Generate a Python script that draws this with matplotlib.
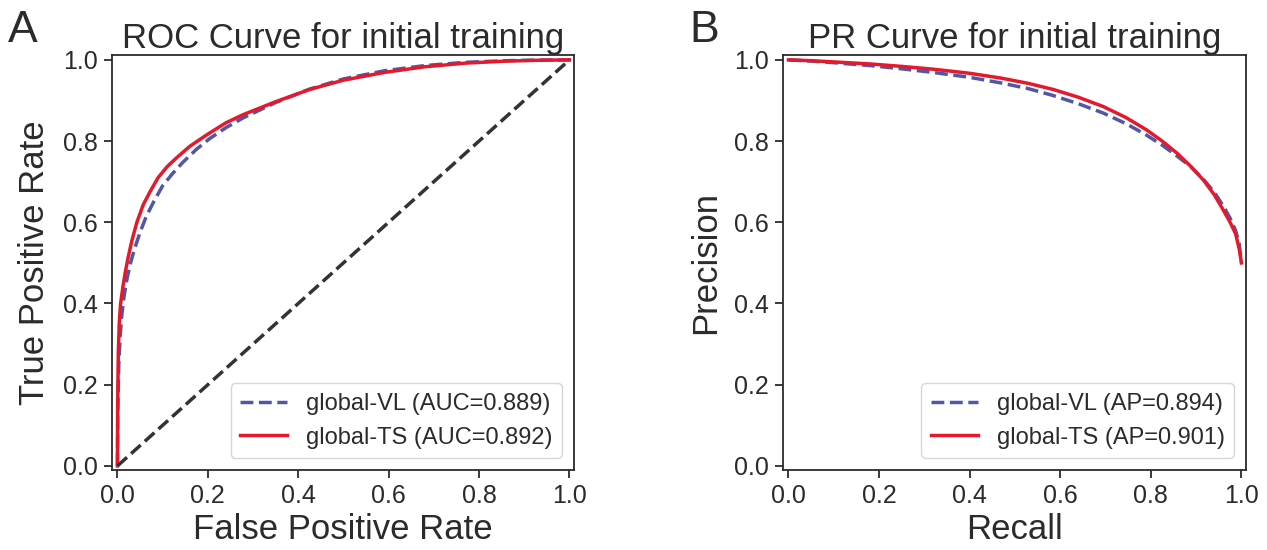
import matplotlib
matplotlib.use("Agg")
import matplotlib.pyplot as plt

plt.rcParams["font.family"] = ["Liberation Sans", "DejaVu Sans"]
plt.rcParams["text.color"] = "#2b2b2b"
plt.rcParams["axes.labelcolor"] = "#2b2b2b"
plt.rcParams["xtick.color"] = "#2b2b2b"
plt.rcParams["ytick.color"] = "#2b2b2b"

# ROC curves
roc_fpr_vl = [0, 0.0008, 0.003, 0.006, 0.01, 0.015, 0.021, 0.029, 0.038, 0.05,
              0.064, 0.08, 0.1, 0.122, 0.145, 0.175, 0.204, 0.24, 0.278, 0.35,
              0.425, 0.5, 0.59, 0.68, 0.77, 0.86, 0.93, 1.0]
roc_tpr_vl = [0, 0.13, 0.25, 0.32, 0.375, 0.42, 0.46, 0.5, 0.535, 0.575,
              0.615, 0.65, 0.69, 0.72, 0.748, 0.78, 0.806, 0.833, 0.857, 0.895,
              0.928, 0.953, 0.973, 0.986, 0.994, 0.998, 0.9995, 1.0]
roc_fpr_ts = [0, 0.0005, 0.002, 0.004, 0.007, 0.012, 0.017, 0.024, 0.032, 0.043,
              0.057, 0.072, 0.09, 0.11, 0.13, 0.16, 0.197, 0.24, 0.278, 0.35,
              0.425, 0.5, 0.59, 0.68, 0.77, 0.86, 0.93, 1.0]
roc_tpr_ts = [0, 0.15, 0.28, 0.35, 0.4, 0.44, 0.475, 0.515, 0.555, 0.6,
              0.643, 0.675, 0.71, 0.737, 0.758, 0.787, 0.815, 0.845, 0.865, 0.897,
              0.927, 0.95, 0.969, 0.983, 0.992, 0.997, 0.999, 1.0]

# PR curves
pr_recall = [0, 0.05, 0.1, 0.18, 0.25, 0.32, 0.4, 0.47, 0.53, 0.585, 0.64, 0.695,
             0.745, 0.79, 0.825, 0.858, 0.888, 0.916, 0.94, 0.96, 0.975, 0.987,
             0.995, 1.0]
pr_prec_vl = [1.0, 0.997, 0.993, 0.986, 0.978, 0.969, 0.957, 0.943, 0.929, 0.912,
              0.892, 0.869, 0.843, 0.815, 0.79, 0.763, 0.737, 0.706, 0.674, 0.64,
              0.61, 0.58, 0.548, 0.5]
pr_prec_ts = [1.0, 0.998, 0.995, 0.99, 0.984, 0.977, 0.967, 0.955, 0.942, 0.927,
              0.908, 0.885, 0.858, 0.828, 0.8, 0.77, 0.738, 0.704, 0.668, 0.63,
              0.6, 0.572, 0.535, 0.5]

labels_roc = ["global-VL (AUC=0.889)", "global-TS (AUC=0.892)"]
labels_pr = ["global-VL (AP=0.894)", "global-TS (AP=0.901)"]
ticks = [0.0, 0.2, 0.4, 0.6, 0.8, 1.0]

c_vl = "#5157a7"
c_ts = "#e41a2c"

fig = plt.figure(figsize=(12.67, 5.5), dpi=100)
ax1 = fig.add_axes([0.0884, 0.1455, 0.3646, 0.7545])
ax2 = fig.add_axes([0.618, 0.1455, 0.3654, 0.7545])


def style_axes(ax):
    ax.set_xlim(-0.012, 1.01)
    ax.set_ylim(-0.01, 1.012)
    ax.set_xticks(ticks)
    ax.set_yticks(ticks)
    ax.set_xticklabels([f"{t:.1f}" for t in ticks])
    ax.set_yticklabels([f"{t:.1f}" for t in ticks])
    ax.tick_params(labelsize=18, length=6, width=1.3, direction="out", pad=4)
    for s in ax.spines.values():
        s.set_linewidth(1.3)
        s.set_color("#2b2b2b")


ax1.plot(roc_fpr_vl, roc_tpr_vl, color=c_vl, lw=2.5, ls="--", label=labels_roc[0])
ax1.plot(roc_fpr_ts, roc_tpr_ts, color=c_ts, lw=2.5, label=labels_roc[1])
ax1.plot([0, 1], [0, 1], color="#333333", lw=2.5, ls="--")
style_axes(ax1)
ax1.set_xlabel("False Positive Rate", fontsize=25)
ax1.set_ylabel("True Positive Rate", fontsize=25, labelpad=9)
ax1.set_title("ROC Curve for initial training", fontsize=25, pad=4)
ax1.legend(loc="lower right", fontsize=17)

ax2.plot(pr_recall, pr_prec_vl, color=c_vl, lw=2.5, ls="--", label=labels_pr[0])
ax2.plot(pr_recall, pr_prec_ts, color=c_ts, lw=2.5, label=labels_pr[1])
style_axes(ax2)
ax2.set_xlabel("Recall", fontsize=25)
ax2.set_ylabel("Precision", fontsize=25, labelpad=9)
ax2.set_title("PR Curve for initial training", fontsize=25, pad=4)
ax2.legend(loc="lower right", fontsize=17)

fig.text(8 / 1267, 1 - 42 / 550, "A", fontsize=32, va="baseline")
fig.text(689 / 1267, 1 - 42 / 550, "B", fontsize=32, va="baseline")

fig.savefig("out.png", dpi=100)
